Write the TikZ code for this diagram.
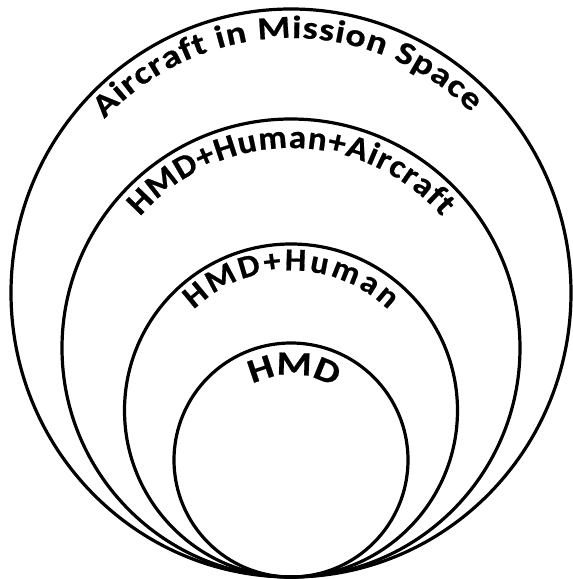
\documentclass[tikz,border=0pt]{standalone}
\usepackage{fontspec}
\setmainfont{Carlito}
\newfontfamily\cbold{Carlito Bold}[FakeBold=0.6,FakeStretch=1.18]
\newfontfamily\cboldn{Carlito Bold}[FakeBold=0.6,FakeStretch=1.06]
\usetikzlibrary{shapes.geometric,decorations.text}
\newcommand\lblfont{\cbold\fontsize{32pt}{38pt}\selectfont}
\newcommand\lblfontmid{\cboldn\fontsize{33pt}{39pt}\selectfont}
\newcommand\lblfontsm{\cboldn\fontsize{32pt}{38pt}\selectfont}
\newcommand\lblfontbig{\cbold\fontsize{34pt}{40pt}\selectfont}
\begin{document}
\begin{tikzpicture}[x=1pt,y=1pt,
  ring/.style={draw=black,line width=3.2pt,inner sep=0pt,outer sep=0pt},
  arctext/.style={decorate,decoration={text along path,text align=fit to path,text={#1}}}]
\fill[white] (0,0) rectangle (573,579);
\useasboundingbox (0,0) rectangle (573,579);
\node[ring,ellipse,minimum width=560pt,minimum height=568pt] (outer) at (291,286) {};
\node[ring,circle,minimum size=458pt] (second) at (291,231) {};
\node[ring,circle,minimum size=333pt] (third) at (291,168.5) {};
\node[ring,circle,minimum size=234pt] (inner) at (291,119) {};
\path[arctext={|\lblfont|Aircraft in Mission Space}]
  ([shift={(137:255pt)}]outer.center) arc[start angle=137,end angle=45,radius=255pt];
\path[arctext={|\lblfontmid|HMD+Human+Aircraft}]
  ([shift={(139:200pt)}]second.center) arc[start angle=139,end angle=41,radius=200pt];
\path[arctext={|\lblfontsm|HMD+Human}]
  ([shift={(134:140pt)}]third.center) arc[start angle=134,end angle=46,radius=140pt];
\path[arctext={|\lblfontbig|HMD}]
  ([shift={(117:85pt)}]inner.center) arc[start angle=117,end angle=63,radius=85pt];
\end{tikzpicture}
\end{document}
